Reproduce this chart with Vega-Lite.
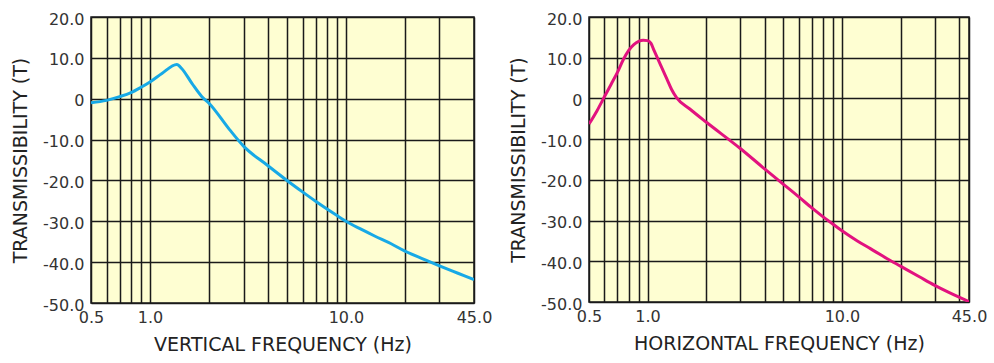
{
  "$schema": "https://vega.github.io/schema/vega-lite/v6.json",
  "padding": {"left": 10, "top": 10, "right": 4, "bottom": 2},
  "background": "#ffffff",
  "spacing": 15,
  "datasets": {
    "vertical": [
      {"freq": 0.5, "t": -1.0},
      {"freq": 0.6, "t": -0.4},
      {"freq": 0.7, "t": 0.5},
      {"freq": 0.8, "t": 1.5},
      {"freq": 0.9, "t": 2.8},
      {"freq": 1.0, "t": 4.1},
      {"freq": 1.15, "t": 6.2},
      {"freq": 1.37, "t": 8.4},
      {"freq": 1.45, "t": 7.4},
      {"freq": 1.64, "t": 3.7},
      {"freq": 1.84, "t": 0.5},
      {"freq": 2.0, "t": -1.1},
      {"freq": 2.54, "t": -7.5},
      {"freq": 3.0, "t": -11.6},
      {"freq": 4.0, "t": -16.4},
      {"freq": 5.0, "t": -20.0},
      {"freq": 6.0, "t": -22.8},
      {"freq": 7.0, "t": -25.1},
      {"freq": 8.0, "t": -27.0},
      {"freq": 9.0, "t": -28.6},
      {"freq": 10.0, "t": -30.0},
      {"freq": 12.0, "t": -32.0},
      {"freq": 14.0, "t": -33.6},
      {"freq": 17.0, "t": -35.5},
      {"freq": 20.0, "t": -37.3},
      {"freq": 25.0, "t": -39.3},
      {"freq": 30.0, "t": -40.9},
      {"freq": 35.0, "t": -42.2},
      {"freq": 40.0, "t": -43.3},
      {"freq": 45.0, "t": -44.3}
    ],
    "horizontal": [
      {"freq": 0.5, "t": -6.3},
      {"freq": 0.55, "t": -3.0},
      {"freq": 0.6, "t": 0.4},
      {"freq": 0.65, "t": 3.5},
      {"freq": 0.7, "t": 6.4},
      {"freq": 0.75, "t": 9.5},
      {"freq": 0.8, "t": 11.8},
      {"freq": 0.85, "t": 13.2},
      {"freq": 0.9, "t": 14.0},
      {"freq": 0.95, "t": 14.3},
      {"freq": 1.0, "t": 14.2},
      {"freq": 1.04, "t": 13.6},
      {"freq": 1.08, "t": 11.8},
      {"freq": 1.16, "t": 8.5},
      {"freq": 1.26, "t": 4.7},
      {"freq": 1.33, "t": 2.2},
      {"freq": 1.41, "t": 0.2},
      {"freq": 1.65, "t": -2.6},
      {"freq": 2.0, "t": -5.8},
      {"freq": 3.0, "t": -12.3},
      {"freq": 4.0, "t": -17.3},
      {"freq": 5.0, "t": -21.1},
      {"freq": 6.0, "t": -24.2},
      {"freq": 7.0, "t": -26.9},
      {"freq": 8.0, "t": -29.1},
      {"freq": 9.0, "t": -30.9},
      {"freq": 10.0, "t": -32.5},
      {"freq": 12.0, "t": -35.0},
      {"freq": 14.0, "t": -36.9},
      {"freq": 17.0, "t": -39.3},
      {"freq": 20.0, "t": -41.2},
      {"freq": 25.0, "t": -43.8},
      {"freq": 30.0, "t": -45.9},
      {"freq": 35.0, "t": -47.5},
      {"freq": 40.0, "t": -48.8},
      {"freq": 45.0, "t": -49.9}
    ]
  },
  "hconcat": [
    {
      "width": 383,
      "height": 286,
      "data": {"name": "vertical"},
      "mark": {"type": "line", "interpolate": "monotone", "strokeWidth": 3, "color": "#17a9e6", "clip": true},
      "encoding": {
        "x": {
          "field": "freq",
          "type": "quantitative",
          "title": "VERTICAL FREQUENCY (Hz)",
          "scale": {"type": "log", "domain": [0.5, 45], "nice": false},
          "axis": {"values": [0.5, 0.6, 0.7, 0.8, 0.9, 1, 2, 3, 4, 5, 6, 7, 8, 9, 10, 20, 30, 45]}
        },
        "y": {
          "field": "t",
          "type": "quantitative",
          "title": "TRANSMISSIBILITY (T)",
          "scale": {"domain": [-50, 20], "nice": false, "zero": false},
          "axis": {"values": [-50, -40, -30, -20, -10, 0, 10, 20]}
        }
      }
    },
    {
      "width": 380,
      "height": 285,
      "data": {"name": "horizontal"},
      "mark": {"type": "line", "interpolate": "monotone", "strokeWidth": 3, "color": "#e2127f", "clip": true},
      "encoding": {
        "x": {
          "field": "freq",
          "type": "quantitative",
          "title": "HORIZONTAL FREQUENCY (Hz)",
          "scale": {"type": "log", "domain": [0.5, 45], "nice": false},
          "axis": {"values": [0.5, 0.6, 0.7, 0.8, 0.9, 1, 2, 3, 4, 5, 6, 7, 8, 9, 10, 20, 30, 40, 45]}
        },
        "y": {
          "field": "t",
          "type": "quantitative",
          "title": "TRANSMISSIBILITY (T)",
          "scale": {"domain": [-50, 20], "nice": false, "zero": false},
          "axis": {"values": [-50, -40, -30, -20, -10, 0, 10, 20]}
        }
      }
    }
  ],
  "config": {
    "font": "DejaVu Sans",
    "view": {"fill": "#fefed2", "stroke": "#1e1e1e", "strokeWidth": 1.5},
    "axis": {
      "grid": true,
      "gridColor": "#1a1a1a",
      "gridWidth": 1.5,
      "gridOpacity": 1,
      "ticks": false,
      "domain": false,
      "labelFont": "DejaVu Sans",
      "labelFontSize": 16,
      "labelColor": "#333333",
      "labelOverlap": false,
      "labelFlush": false,
      "titleFont": "DejaVu Sans",
      "titleFontSize": 19,
      "titleFontWeight": "normal",
      "titleColor": "#222222"
    },
    "axisX": {
      "labelPadding": 6,
      "titlePadding": 10,
      "labelExpr": "indexof([0.5, 1, 10, 45], datum.value) >= 0 ? format(datum.value, '.1f') : ''"
    },
    "axisY": {
      "labelPadding": 7,
      "labelOffset": 2,
      "titlePadding": 12,
      "labelExpr": "datum.value == 0 ? '0' : (datum.value < 0 ? '-' + format(-datum.value, '.1f') : format(datum.value, '.1f'))"
    }
  }
}
